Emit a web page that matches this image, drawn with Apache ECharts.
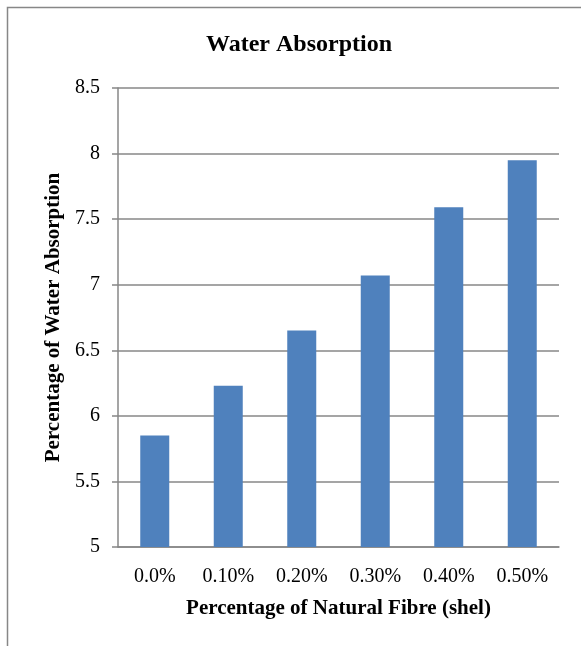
<!DOCTYPE html>
<html>
<head>
<meta charset="utf-8">
<script src="https://cdn.jsdelivr.net/npm/echarts@6/dist/echarts.min.js"></script>
<style>
html,body{margin:0;padding:0;background:#fff;}
#chart{width:581px;height:646px;}
</style>
</head>
<body>
<div id="chart"></div>
<script>
const categories = ["0.0%", "0.10%", "0.20%", "0.30%", "0.40%", "0.50%"];
const waterAbsorption = [5.85, 6.23, 6.65, 7.07, 7.59, 7.95];
const titleText = "Water Absorption";
const xAxisName = "Percentage of Natural Fibre (shel)";
const yAxisName = "Percentage of Water Absorption";

const FONT = "'Liberation Serif', 'Times New Roman', serif";
const chart = echarts.init(document.getElementById('chart'), null, {renderer: 'canvas'});
chart.setOption({
  animation: false,
  backgroundColor: '#ffffff',
  graphic: [{
    type: 'rect',
    shape: {x: 7.5, y: 7.5, width: 700, height: 700},
    style: {fill: 'none', stroke: '#878787', lineWidth: 1.5},
    silent: true
  }],
  title: {
    text: titleText,
    left: 206,
    top: 33,
    padding: 0,
    textStyle: {fontFamily: FONT, fontWeight: 'bold', fontSize: 24, color: '#000'}
  },
  grid: {left: 118, right: 22, top: 88, bottom: 99, containLabel: false},
  xAxis: {
    type: 'category',
    data: categories,
    name: xAxisName,
    nameLocation: 'middle',
    nameGap: 51,
    nameTextStyle: {fontFamily: FONT, fontWeight: 'bold', fontSize: 21, color: '#000'},
    axisLine: {show: true, lineStyle: {color: '#878787', width: 1.5}},
    axisTick: {show: false},
    axisLabel: {fontFamily: FONT, fontSize: 20, color: '#000', margin: 20}
  },
  yAxis: {
    type: 'value',
    min: 5,
    max: 8.5,
    interval: 0.5,
    name: yAxisName,
    nameLocation: 'middle',
    nameGap: 50,
    nameTextStyle: {fontFamily: FONT, fontWeight: 'bold', fontSize: 21, color: '#000'},
    axisLine: {show: true, lineStyle: {color: '#878787', width: 1.5}},
    axisTick: {show: true, inside: false, length: 6, lineStyle: {color: '#878787', width: 1.5}},
    axisLabel: {fontFamily: FONT, fontSize: 20, color: '#000', margin: 18},
    splitLine: {show: true, lineStyle: {color: '#878787', width: 1.5}}
  },
  series: [{
    type: 'bar',
    data: waterAbsorption,
    barWidth: 29,
    itemStyle: {color: '#4F81BD'}
  }]
});
</script>
</body>
</html>
